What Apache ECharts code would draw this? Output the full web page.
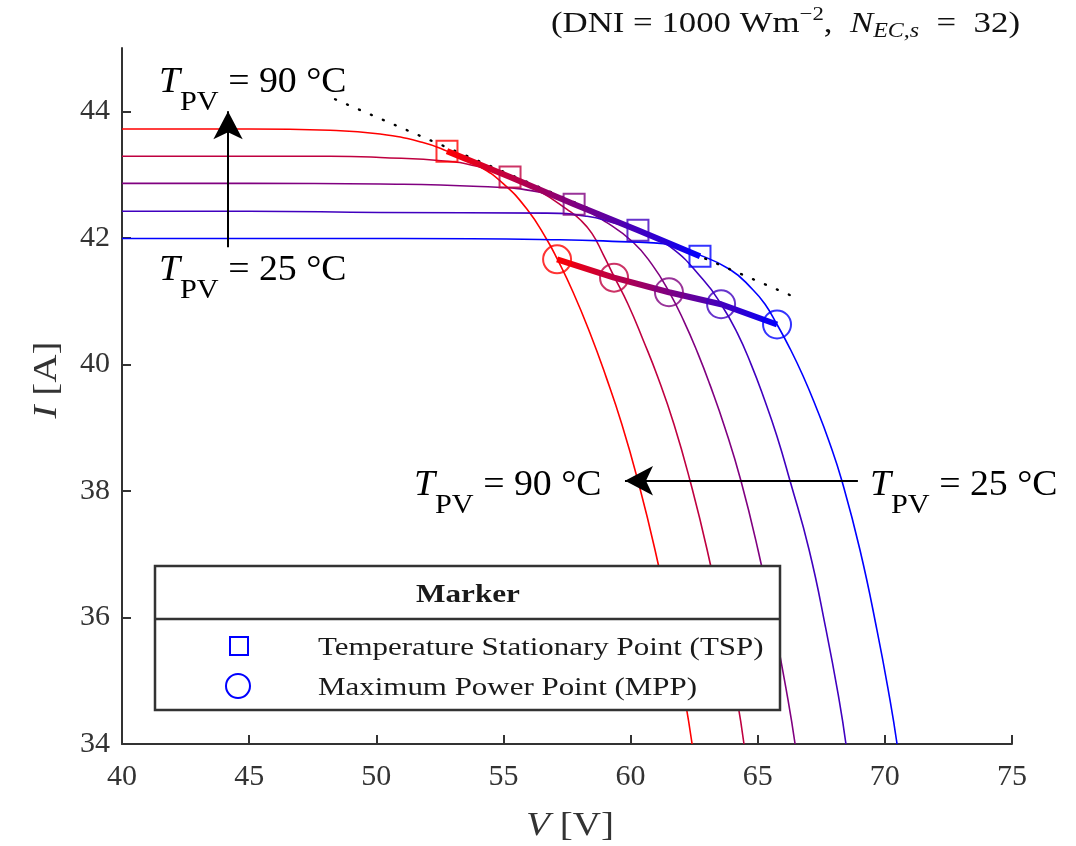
<!DOCTYPE html>
<html><head><meta charset="utf-8">
<script src="https://cdn.jsdelivr.net/npm/echarts@6/dist/echarts.min.js"></script>
<style>html,body{margin:0;padding:0;background:#fff}#c{width:1076px;height:846px}</style>
</head><body><div id="c"></div>
<script>
// ---- data (V [V], I [A]) ----
const xTickValues = [40, 45, 50, 55, 60, 65, 70, 75];
const yTickValues = [34, 36, 38, 40, 42, 44];
const curveTemps = ['90 °C', '73.75 °C', '57.5 °C', '41.25 °C', '25 °C'];

const curve90 = [[40,43.72],[45,43.72],[48.18,43.70],[50.15,43.64],[51.80,43.51],[52.78,43.37],[53.96,43.15],[54.98,42.86],[55.93,42.45],[56.71,41.97],[57.11,41.67],[57.74,41.14],[58.40,40.50],[59.03,39.81],[59.66,39.05],[60.29,38.16],[60.96,37.07],[61.63,35.80],[62.14,34.70],[62.42,34.0]];
const curve74 = [[40,43.29],[45,43.29],[48.18,43.29],[50.15,43.27],[52.78,43.21],[53.96,43.13],[55.26,42.96],[56.44,42.73],[57.50,42.45],[58.01,42.29],[58.48,42.07],[58.92,41.74],[59.35,41.39],[59.90,40.95],[60.49,40.39],[61.08,39.79],[61.71,39.05],[62.34,38.16],[63.01,37.07],[63.67,35.80],[64.19,34.70],[64.46,34.0]];
const curve58 = [[40,42.86],[45,42.86],[50.15,42.85],[54.08,42.81],[56.44,42.72],[57.78,42.53],[59.07,42.24],[60.10,41.93],[60.84,41.58],[61.51,41.15],[62.10,40.68],[62.65,40.17],[63.12,39.68],[63.71,39.00],[64.34,38.16],[65.01,37.07],[65.68,35.80],[66.19,34.70],[66.47,34.0]];
const curve41 = [[40,42.42],[45,42.42],[50.15,42.40],[56.71,42.39],[58.29,42.34],[59.31,42.24],[60.29,42.12],[61.55,41.86],[62.85,41.34],[63.56,40.95],[64.19,40.50],[64.74,40.00],[65.25,39.46],[65.76,38.86],[66.27,38.16],[67.02,37.07],[67.69,35.80],[68.20,34.70],[68.47,34.0]];
const curve25 = [[40,41.99],[45,41.99],[50.93,41.99],[57.22,41.97],[59.58,41.94],[61.55,41.90],[62.46,41.77],[63.91,41.50],[64.81,41.18],[65.29,40.95],[65.76,40.63],[66.27,40.25],[66.78,39.82],[67.29,39.33],[67.80,38.79],[68.31,38.16],[69.02,37.07],[69.69,35.80],[70.20,34.70],[70.48,34.0]];

const tspV = [52.78, 55.26, 57.78, 60.29, 62.73];
const tspI = [43.37, 42.96, 42.53, 42.12, 41.71];
const mppV = [57.11, 59.35, 61.51, 63.56, 65.76];
const mppI = [41.66, 41.37, 41.14, 40.95, 40.63];

const tangentV = [48.38, 66.47];
const tangentI = [44.19, 41.06];

const arrowUpV = [44.17, 44.17];
const arrowUpI = [41.85, 44.0];
const arrowLeftV = [68.94, 59.78];
const arrowLeftI = [38.16, 38.16];

// ---- styles ----
const curveColors = ['#ff0000', '#bf0040', '#800080', '#4000bf', '#0000ff'];
const serif = 'Liberation Serif';
const ink = '#1a1a1a';

const curves = [curve90, curve74, curve58, curve41, curve25];
const zip = (a, b) => a.map((v, i) => [v, b[i]]);
const grad = () => new echarts.graphic.LinearGradient(0, 0, 1, 0, [
  {offset: 0, color: '#ff0000'}, {offset: 0.5, color: '#800080'}, {offset: 1, color: '#0000ff'}]);

const series = [];
curves.forEach((c, k) => series.push({
  type: 'line', name: curveTemps[k], data: c, showSymbol: false, smooth: 0.5,
  lineStyle: {color: curveColors[k], width: 1.6}, silent: true, z: 2
}));
series.push({
  type: 'line', data: zip(tangentV, tangentI), showSymbol: false, silent: true, z: 3,
  lineStyle: {color: '#000', width: 2.4, type: [1, 12], cap: 'round'},
  markLine: {
    silent: true, animation: false, symbol: ['none', 'arrow'], symbolSize: [22, 28],
    label: {show: false},
    lineStyle: {color: '#000', width: 2, type: 'solid'},
    data: [
      [{coord: [arrowUpV[0], arrowUpI[0]]}, {coord: [arrowUpV[1], arrowUpI[1]]}],
      [{coord: [arrowLeftV[0], arrowLeftI[0]]}, {coord: [arrowLeftV[1], arrowLeftI[1]]}]
    ]
  }
});
series.push({type: 'line', data: zip(tspV, tspI), showSymbol: false, silent: true, z: 4,
  lineStyle: {color: grad(), width: 6}});
series.push({type: 'line', data: zip(mppV, mppI), showSymbol: false, silent: true, z: 4,
  lineStyle: {color: grad(), width: 6}});
series.push({type: 'scatter', symbol: 'rect', symbolSize: 21, silent: true, z: 5,
  data: zip(tspV, tspI).map((p, k) => ({value: p, itemStyle: {color: 'rgba(0,0,0,0)', borderColor: curveColors[k], borderWidth: 2}}))});
series.push({type: 'scatter', symbol: 'circle', symbolSize: 28, silent: true, z: 5,
  data: zip(mppV, mppI).map((p, k) => ({value: p, itemStyle: {color: 'rgba(0,0,0,0)', borderColor: curveColors[k], borderWidth: 2}}))});

const tpvRich = {
  t: {fontFamily: serif, fontStyle: 'italic', fontSize: 35, color: ink, lineHeight: 34, verticalAlign: 'top'},
  s: {fontFamily: serif, fontSize: 28, color: ink, lineHeight: 28, padding: [24, 0, 0, 0], verticalAlign: 'top'},
  n: {fontFamily: serif, fontSize: 35, color: ink, lineHeight: 34, verticalAlign: 'top'}
};
const tpvText = (x, y, val) => ({
  type: 'text', x: x, y: y, scaleX: 1.08, z: 50, silent: true,
  style: {text: '{t|T}{s|PV}{n| = ' + val + ' °C}', rich: tpvRich}
});
const legText = (x, y, s) => ({
  type: 'text', x: x, y: y, scaleX: 1.19, z: 62, silent: true,
  style: {text: s, fontFamily: serif, fontSize: 26, fill: ink, verticalAlign: 'middle'}
});

const option = {
  animation: false,
  backgroundColor: '#fff',
  grid: {left: 122, right: 64, top: 48, bottom: 102},
  xAxis: {
    type: 'value', min: 40, max: 75, interval: 5,
    axisLine: {lineStyle: {color: '#333', width: 2}},
    axisTick: {inside: true, length: 9, lineStyle: {color: '#333', width: 2}, customValues: xTickValues},
    axisLabel: {fontFamily: serif, fontSize: 30, color: '#333', margin: 18, customValues: xTickValues},
    splitLine: {show: false}
  },
  yAxis: {
    type: 'value', min: 34, max: 45, interval: 2,
    axisLine: {lineStyle: {color: '#333', width: 2}},
    axisTick: {inside: true, length: 9, lineStyle: {color: '#333', width: 2}, customValues: yTickValues},
    axisLabel: {fontFamily: serif, fontSize: 30, color: '#333', margin: 12, customValues: yTickValues},
    splitLine: {show: false}
  },
  series: series,
  graphic: [
    // axis titles
    {type: 'text', x: 47, y: 380, rotation: Math.PI / 2, scaleX: 1.15, z: 50, silent: true,
     style: {text: '{i|I} [A]', fontFamily: serif, fontSize: 34, fill: '#333', align: 'center', verticalAlign: 'middle',
       rich: {i: {fontFamily: serif, fontStyle: 'italic', fontSize: 34, color: '#333'}}}},
    {type: 'text', x: 570, y: 826, scaleX: 1.15, z: 50, silent: true,
     style: {text: '{i|V} [V]', fontFamily: serif, fontSize: 34, fill: '#333', align: 'center', verticalAlign: 'middle',
       rich: {i: {fontFamily: serif, fontStyle: 'italic', fontSize: 34, color: '#333'}}}},
    // title
    {type: 'text', x: 1020, y: 24, scaleX: 1.2, z: 50, silent: true,
     style: {text: '(DNI = 1000 Wm{sup|−2},  {it|N}{sub|EC,s}  =  32)',
       fontFamily: serif, fontSize: 29, fill: '#111', align: 'right', verticalAlign: 'middle',
       rich: {
         sup: {fontFamily: serif, fontSize: 19, color: '#111', verticalAlign: 'top', lineHeight: 18},
         it: {fontFamily: serif, fontStyle: 'italic', fontSize: 29, color: '#111'},
         sub: {fontFamily: serif, fontStyle: 'italic', fontSize: 20, color: '#111', padding: [16, 0, 0, 0]}
       }}},
    tpvText(159, 65, '90'),
    tpvText(159, 253, '25'),
    tpvText(414, 468, '90'),
    tpvText(870, 468, '25'),
    // legend box
    {type: 'rect', z: 60, silent: true, shape: {x: 155, y: 566, width: 625, height: 144},
     style: {fill: '#fff', stroke: '#333', lineWidth: 2.5}},
    {type: 'line', z: 61, silent: true, shape: {x1: 155, y1: 619, x2: 780, y2: 619},
     style: {stroke: '#333', lineWidth: 2.5}},
    {type: 'text', z: 62, silent: true, x: 468, y: 595, scaleX: 1.2,
     style: {text: 'Marker', fontFamily: serif, fontWeight: 'bold', fontSize: 26, fill: ink, align: 'center', verticalAlign: 'middle'}},
    {type: 'rect', z: 62, silent: true, shape: {x: 230, y: 637, width: 18, height: 18},
     style: {fill: 'none', stroke: '#0000ff', lineWidth: 2}},
    {type: 'circle', z: 62, silent: true, shape: {cx: 238, cy: 686, r: 12},
     style: {fill: 'none', stroke: '#0000ff', lineWidth: 2}},
    legText(318, 648, 'Temperature Stationary Point (TSP)'),
    legText(318, 688, 'Maximum Power Point (MPP)')
  ]
};

const chart = echarts.init(document.getElementById('c'), null, {renderer: 'canvas'});
chart.setOption(option);
</script>
</body></html>
